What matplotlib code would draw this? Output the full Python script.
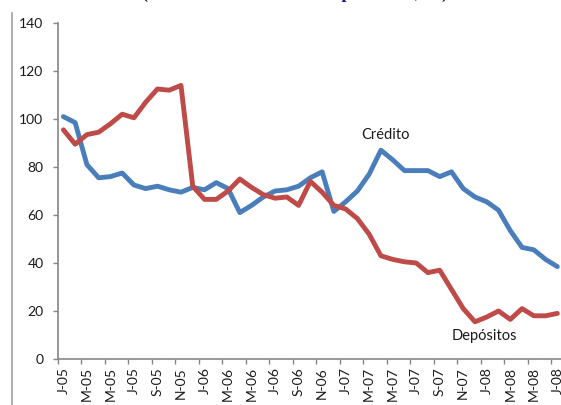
import matplotlib
matplotlib.use("Agg")
import matplotlib.pyplot as plt
from matplotlib.lines import Line2D

# Monthly series, Jan-05 .. Jul-08
credito = [101, 98.5, 81, 75.5, 76, 77.5, 72.5, 71, 72, 70.5, 69.5,
           71.5, 70.5, 73.5, 71, 61, 64, 67.5, 70, 70.5, 72, 75.5,
           78, 61.5, 65.5, 70, 77, 87, 83, 78.5, 78.5, 78.5, 76, 78,
           71, 67.5, 65.5, 62, 53.5, 46.5, 45.5, 41.5, 38.5]
depositos = [95.5, 89.5, 93.5, 94.5, 98, 102, 100.5, 107, 112.5, 112, 114,
             72, 66.5, 66.5, 70, 75, 71.5, 68.5, 67, 67.5, 64, 74,
             69.5, 64, 62.5, 58.5, 52, 43, 41.5, 40.5, 40, 36, 37, 29,
             21, 15.5, 17.5, 20, 16.5, 21, 18, 18, 19]
tick_labels = ["J-05", "M-05", "M-05", "J-05", "S-05", "N-05",
               "J-06", "M-06", "M-06", "J-06", "S-06", "N-06",
               "J-07", "M-07", "M-07", "J-07", "S-07", "N-07",
               "J-08", "M-08", "M-08", "J-08"]
y_ticks = [0, 20, 40, 60, 80, 100, 120, 140]

BLUE = "#4A7EBB"
RED = "#BE4B48"
AXIS = "#868686"
FONT = "Lato"

W, H = 561, 405
fig = plt.figure(figsize=(W / 100, H / 100), dpi=100)

n = len(credito)
left_px, right_px = 57.5, 563.2
bottom_px, top_px = 359, 23
ax = fig.add_axes([left_px / W, 1 - bottom_px / H,
                   (right_px - left_px) / W, (bottom_px - top_px) / H])

x = list(range(n))
for series, color in ((credito, BLUE), (depositos, RED)):
    ax.plot(x, series, color=color, lw=3.5, solid_joinstyle="round",
            solid_capstyle="round", clip_on=False)

ax.set_xlim(-0.5, n - 0.5)
ax.set_ylim(0, 140)

# y axis
ax.set_yticks(y_ticks)
ax.set_yticklabels([str(v) for v in y_ticks], fontsize=10, family=FONT,
                   color="#1a1a1a")
ax.tick_params(axis="y", direction="out", length=3.6, width=1.0,
               color=AXIS, pad=6.5)

# x axis: ticks on category boundaries, labels on category centres
ax.set_xticks([i - 0.5 for i in range(0, n, 2)])
ax.set_xticklabels([])
ax.tick_params(axis="x", direction="out", length=3.6, width=1.0, color=AXIS)
for k, lab in enumerate(tick_labels):
    ax.annotate(lab, xy=(2 * k, 0), xycoords="data",
                xytext=(0, -6), textcoords="offset points",
                rotation=90, ha="center", va="top", fontsize=10,
                family=FONT, color="#1a1a1a", annotation_clip=False)

for s in ("top", "right"):
    ax.spines[s].set_visible(False)
for s in ("left", "bottom"):
    ax.spines[s].set_color(AXIS)
    ax.spines[s].set_linewidth(1.2)

# series labels
ax.text(27.4, 93.5, "Crédito", fontsize=10.5, family=FONT, color="#1a1a1a",
        ha="center", va="center")
ax.text(35.8, 9.5, "Depósitos", fontsize=10.5, family=FONT, color="#1a1a1a",
        ha="center", va="center")

# heading (sits mostly above the visible area)
fig.text(295 / W, 1 + 2.5 / H, "(Tasas de variación anual promedio, %)",
         ha="center", va="baseline", fontsize=13, fontweight="bold",
         family="Liberation Serif", color="#101080")

# outer frame line on the left
fig.add_artist(Line2D([11.5 / W, 11.5 / W], [0, 1 - 13 / H],
                      transform=fig.transFigure, color="#A0A0A0", lw=1.2))

fig.savefig("out.png", dpi=100)
